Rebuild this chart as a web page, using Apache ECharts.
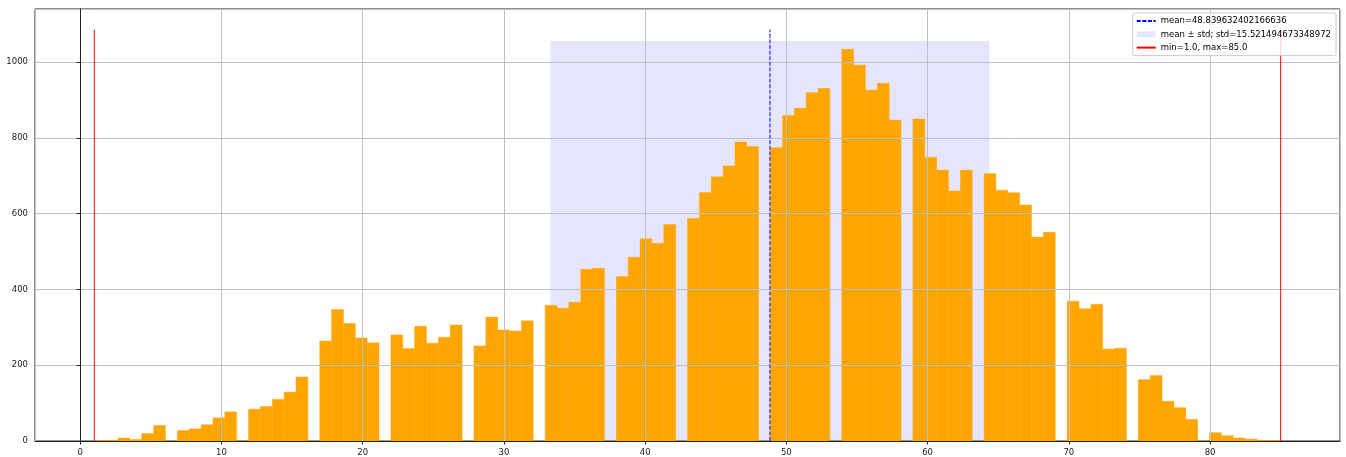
<!DOCTYPE html>
<html>
<head>
<meta charset="utf-8">
<script src="https://cdn.jsdelivr.net/npm/echarts@6/dist/echarts.min.js"></script>
<style>
  html, body { margin: 0; padding: 0; background: #fff; }
  #hist { width: 1346px; height: 457px; }
</style>
</head>
<body>
<div id="hist"></div>
<script>
// integer values found in the sample and how often each one occurs
var values = [1, 2, 3, 4, 5, 6, 7, 8, 9, 10, 11, 12, 13, 14, 15, 16, 17, 18, 19, 20,
    21, 22, 23, 24, 25, 26, 27, 28, 29, 30, 31, 32, 33, 34, 35, 36, 37, 38, 39, 40,
    41, 42, 43, 44, 45, 46, 47, 48, 49, 50, 51, 52, 53, 54, 55, 56, 57, 58, 59, 60,
    61, 62, 63, 64, 65, 66, 67, 68, 69, 70, 71, 72, 73, 74, 75, 76, 77, 78, 79, 80,
    81, 82, 83, 84, 85];
var counts = [1, 2, 8, 4, 20, 41, 28, 32, 43, 61, 77, 84, 91, 110, 129, 169, 264, 347, 310, 272,
    259, 280, 244, 303, 258, 274, 306, 251, 327, 293, 290, 317, 358, 350, 366, 453, 456, 434, 485, 534,
    522, 571, 587, 656, 697, 726, 789, 777, 774, 859, 878, 919, 931, 1034, 992, 926, 944, 847, 850, 749,
    715, 660, 715, 706, 662, 655, 623, 538, 551, 369, 349, 361, 243, 245, 162, 173, 105, 88, 57, 22,
    14, 8, 5, 2, 1];

// summary numbers as printed in the legend
var meanValue = 48.839632402166636;
var stdValue = 15.521494673348972;
var minValue = 1.0;
var maxValue = 85.0;
var binCount = 100;

var meanName = 'mean=' + meanValue;
var spanName = 'mean \u00b1 std; std=' + stdValue;
var rangeName = 'min=1.0, max=85.0';

// ------------------------------
// Put the values into bins
// ------------------------------
var binWidth = (maxValue - minValue) / binCount;
var binTotals = [];
for (var b = 0; b < binCount; b++) binTotals.push(0);
values.forEach(function (v, i) {
    var idx = Math.min(binCount - 1, Math.floor((v - minValue) / binWidth + 1e-9));
    binTotals[idx] += counts[i];
});
var binData = [];
binTotals.forEach(function (c, i) {
    binData.push([minValue + i * binWidth, minValue + (i + 1) * binWidth, c]);
});

var tallest = Math.max.apply(null, binTotals);
var lineTop = tallest * 1.05;
var spanTop = tallest * 1.02;
var pad = (maxValue - minValue) * 0.05;

function renderRect(params, api) {
    var p0 = api.coord([api.value(0), api.value(2)]);
    var p1 = api.coord([api.value(1), 0]);
    var color = api.visual('color');
    return {
        type: 'rect',
        shape: { x: p0[0], y: p0[1], width: p1[0] - p0[0], height: p1[1] - p0[1] },
        style: { fill: color, stroke: color, lineWidth: 0.4 }
    };
}

var histChart = echarts.init(document.getElementById('hist'));
var labelFont = { fontFamily: 'DejaVu Sans', fontSize: 8.5, color: '#222' };
var noSymbol = { opacity: 0, borderWidth: 0 };

var option = {
    animation: false,
    grid: {
        left: 35, right: 6, top: 9, bottom: 16,
        show: true, borderColor: '#222', borderWidth: 1, backgroundColor: 'transparent'
    },
    legend: {
        orient: 'vertical',
        right: 10,
        top: 13,
        z: 10,
        padding: [3, 5, 3, 3],
        itemGap: 3.3,
        itemWidth: 19,
        itemHeight: 6,
        backgroundColor: 'rgba(255,255,255,0.8)',
        borderColor: '#cccccc',
        borderWidth: 1,
        borderRadius: 2,
        textStyle: { fontFamily: 'DejaVu Sans', fontSize: 8.5, color: '#000', lineHeight: 10 },
        data: [
            { name: meanName, itemStyle: noSymbol },
            { name: spanName, icon: 'rect' },
            { name: rangeName, itemStyle: noSymbol }
        ]
    },
    xAxis: {
        type: 'value',
        min: minValue - pad,
        max: maxValue + pad,
        splitNumber: 9,
        z: 3,
        axisLine: { show: true, lineStyle: { color: '#222', width: 1 } },
        axisTick: { show: true, length: 3.5, lineStyle: { color: '#222' } },
        axisLabel: Object.assign({ margin: 7, showMinLabel: false, showMaxLabel: false }, labelFont),
        splitLine: { show: true, lineStyle: { color: '#c0c0c0', width: 1 } }
    },
    yAxis: {
        type: 'value',
        min: 0,
        max: lineTop * 1.05,
        interval: 200,
        z: 3,
        axisLine: { show: true, lineStyle: { color: '#222', width: 1 } },
        axisTick: { show: true, length: 3.5, lineStyle: { color: '#222' } },
        axisLabel: Object.assign({
            margin: 7,
            showMaxLabel: false,
            formatter: function (v) { return String(v); }
        }, labelFont),
        splitLine: { show: true, lineStyle: { color: '#c0c0c0', width: 1 } }
    },
    series: [
        {
            name: spanName,
            type: 'custom',
            z: 1,
            renderItem: renderRect,
            itemStyle: { color: 'rgba(0,0,255,0.1)' },
            encode: { x: [0, 1], y: 2 },
            data: [[meanValue - stdValue, meanValue + stdValue, spanTop]]
        },
        {
            name: 'counts',
            type: 'custom',
            z: 2,
            renderItem: renderRect,
            itemStyle: { color: '#ffa500' },
            encode: { x: [0, 1], y: 2 },
            data: binData
        },
        {
            name: meanName,
            type: 'line',
            z: 5,
            symbol: 'none',
            color: '#0000ff',
            lineStyle: { color: '#0000ff', width: 1, type: [4, 1.6] },
            data: [[meanValue, 0], [meanValue, lineTop]]
        },
        {
            name: rangeName,
            type: 'line',
            z: 5,
            symbol: 'none',
            color: '#ff0000',
            lineStyle: { color: '#ff0000', width: 1 },
            data: [[minValue, 0], [minValue, lineTop]]
        },
        {
            name: rangeName,
            type: 'line',
            z: 5,
            symbol: 'none',
            color: '#ff0000',
            lineStyle: { color: '#ff0000', width: 1 },
            data: [[maxValue, 0], [maxValue, lineTop]]
        }
    ]
};
histChart.setOption(option);
</script>
</body>
</html>
